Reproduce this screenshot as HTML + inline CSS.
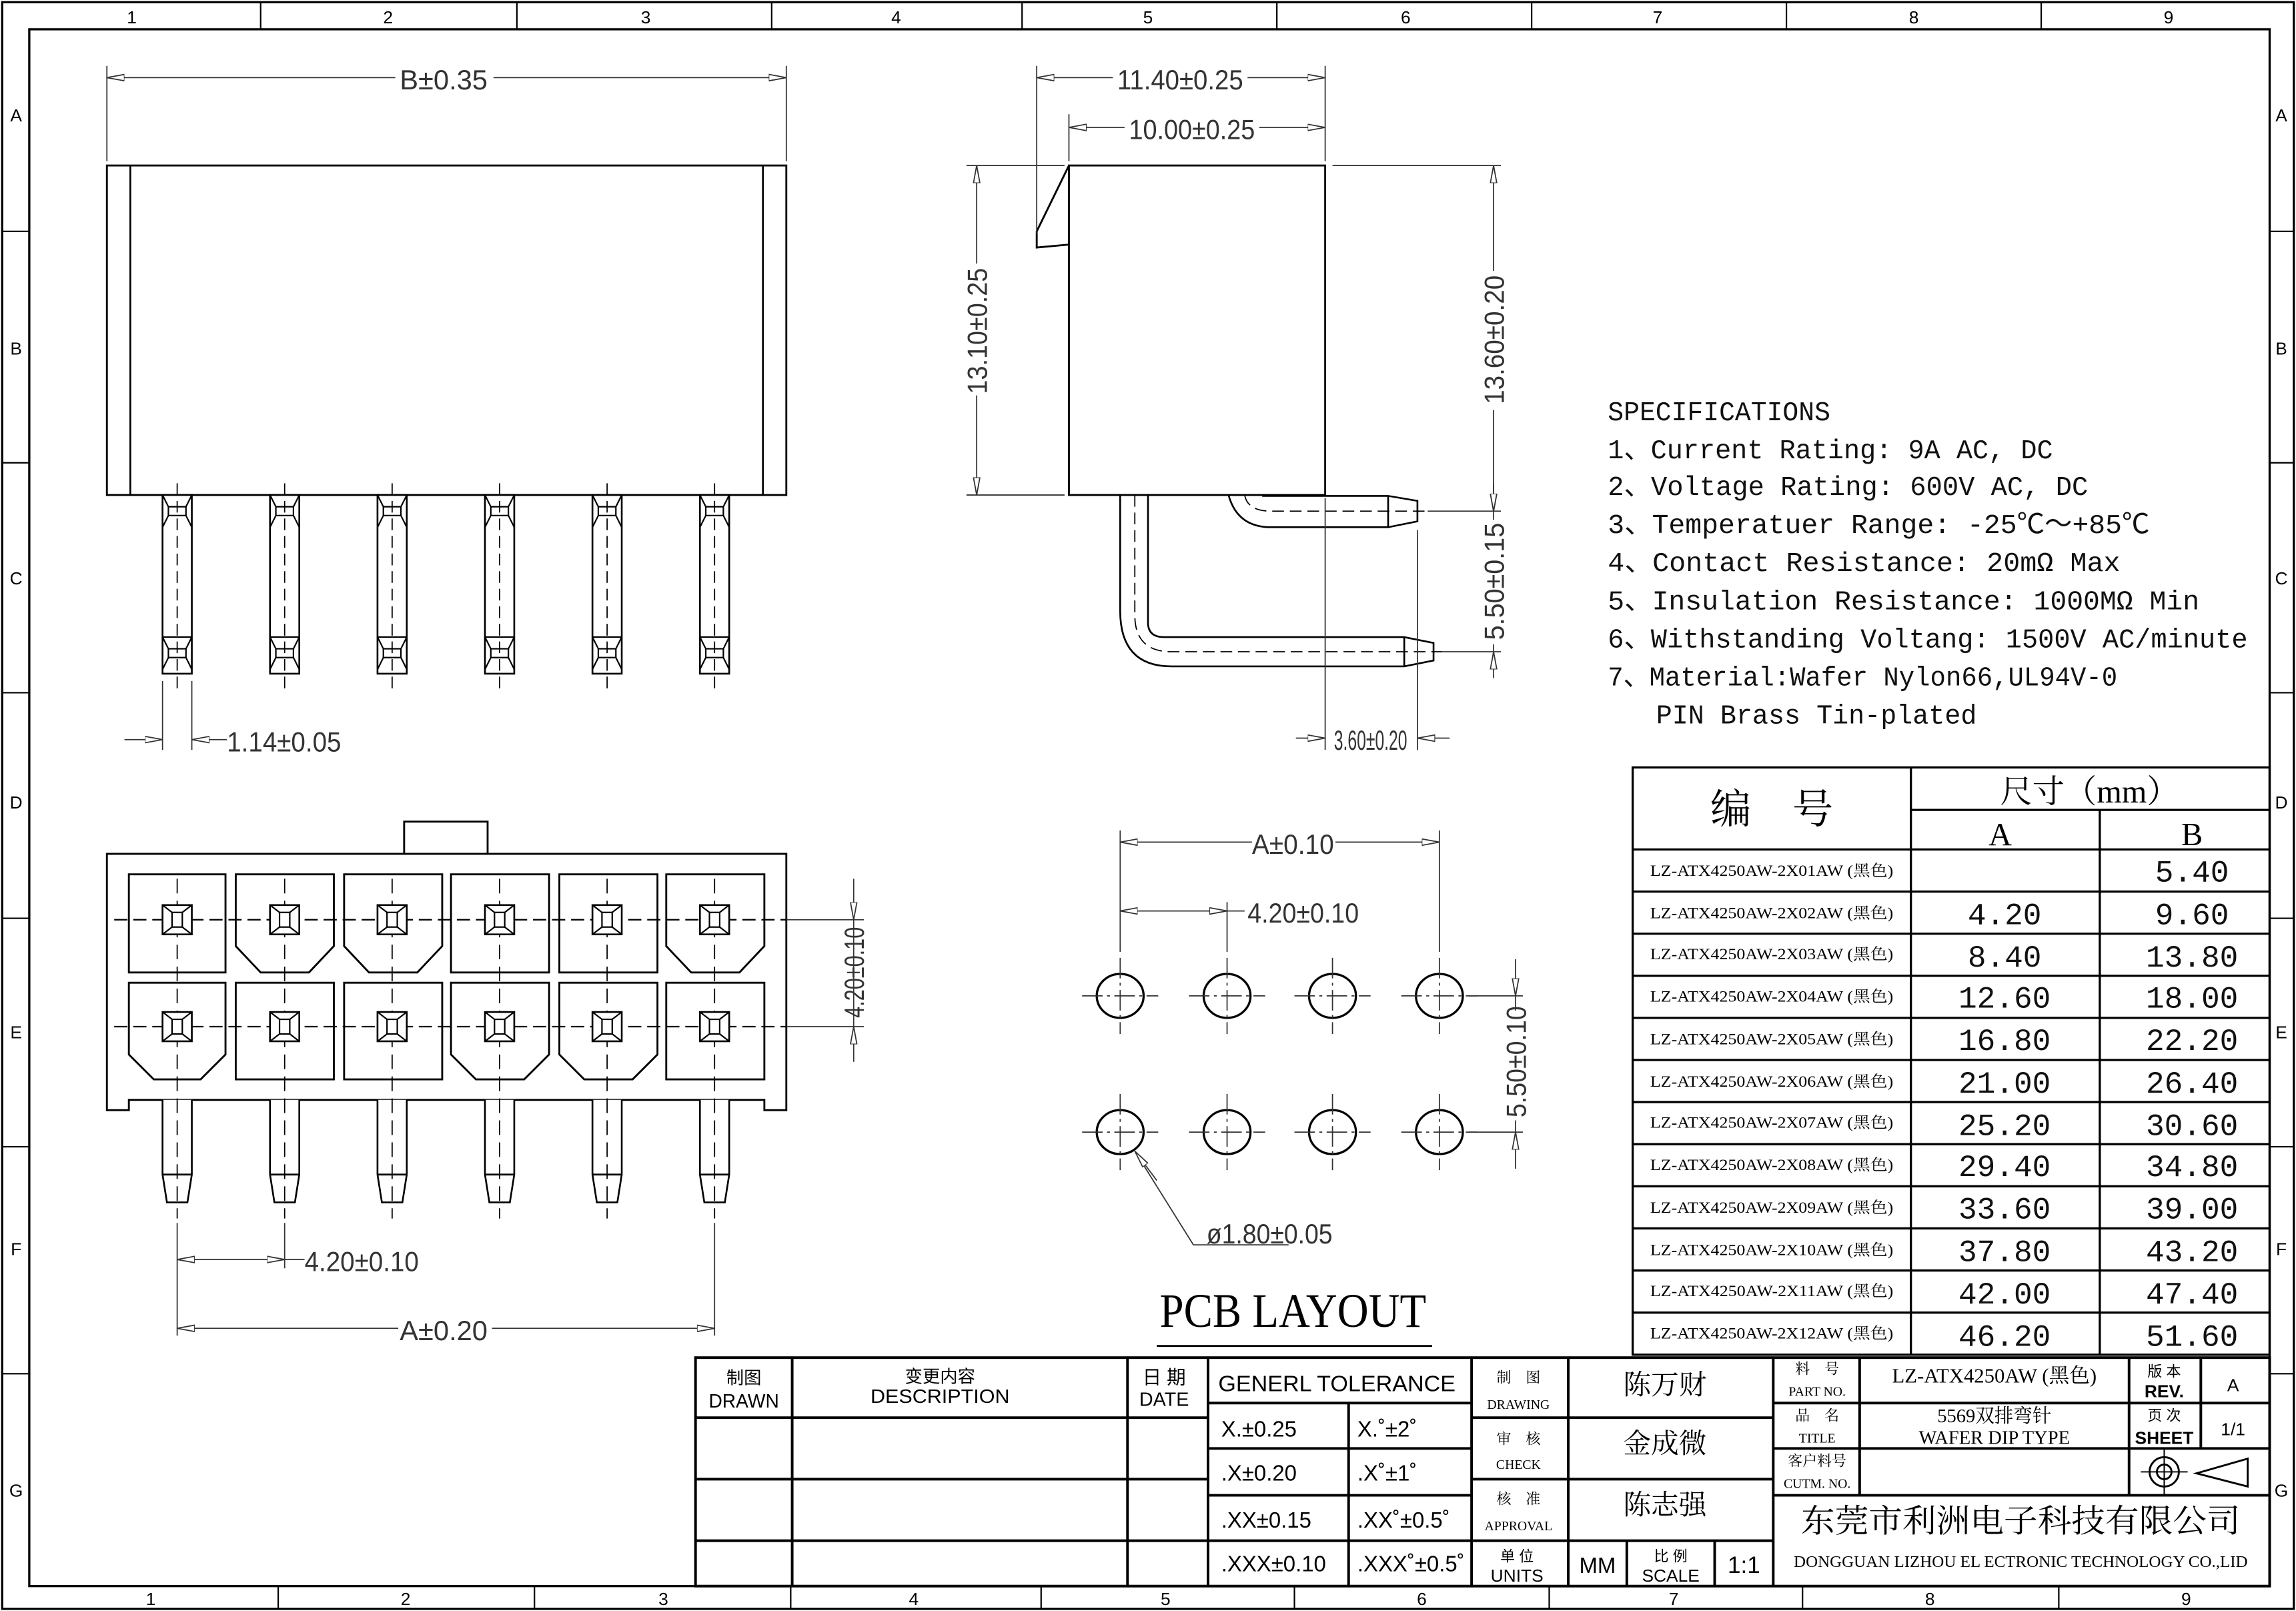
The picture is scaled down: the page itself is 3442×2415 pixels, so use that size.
<!DOCTYPE html>
<html><head><meta charset="utf-8"><style>
html,body{margin:0;padding:0;background:#fff}
svg{display:block}
.d{font-family:"Liberation Sans Narrow","Liberation Sans",sans-serif;fill:#333;font-size:19px}
.s{font-family:"Liberation Serif","Noto Serif CJK SC",serif;fill:#000}
.m{font-family:"Liberation Mono","Noto Sans CJK SC",monospace;fill:#111}
.k{font-family:"Liberation Sans","Noto Sans CJK SC",sans-serif;fill:#000}
</style></head><body>
<svg width="3442" height="2415" viewBox="0 0 1568 1100" preserveAspectRatio="none" xmlns="http://www.w3.org/2000/svg">
<defs>
<marker id="a" viewBox="0 0 12 6" refX="12" refY="3" markerWidth="12" markerHeight="6" orient="auto-start-reverse" markerUnits="userSpaceOnUse"><path d="M0,0.8 L12,3 L0,5.2 Z" fill="#fff" stroke="#333" stroke-width="0.8"/></marker>
<g id="tp"><rect x="-10" y="338" width="20" height="122" fill="#fff" stroke="#000" stroke-width="1.2"/>
<path d="M-10,360 L-6,352 H6 L10,360 M-10,338 L-6,346 H6 L10,338 M-6,346 V352 M6,346 V352 M-10,435 L-6,443 H6 L10,435 M-10,457 L-6,449 H6 L10,457 M-6,443 V449 M6,443 V449 M-10,435 H10" fill="none" stroke="#000" stroke-width="1"/>
<path d="M0,330 V470" stroke="#000" stroke-width="0.8" stroke-dasharray="8,4"/></g>
<g id="fp"><path d="M-10,751 V802 L-7,821 H7 L10,802 V751 M-10,802 H10" fill="#fff" stroke="#000" stroke-width="1.2"/>
<path d="M0,600 V832" stroke="#000" stroke-width="0.8" stroke-dasharray="10,5"/></g>
<g id="sq"><rect x="-10" y="-10" width="20" height="20" fill="#fff" stroke="#000" stroke-width="1.2"/><rect x="-3.5" y="-5" width="7" height="10" fill="none" stroke="#000" stroke-width="1"/><path d="M-10,-10 L-3.5,-5 M10,-10 L3.5,-5 M-10,10 L-3.5,5 M10,10 L3.5,5" stroke="#000" stroke-width="1"/></g>
<g id="hole"><ellipse cx="0" cy="0" rx="16" ry="15" fill="none" stroke="#000" stroke-width="1.5"/><path d="M-26,0 H26 M0,-26 V26" stroke="#333" stroke-width="0.8" stroke-dasharray="14,3,2,3"/></g>
</defs>
<rect x="0" y="0" width="1568" height="1100" fill="#fff"/>
<rect x="1.5" y="1.5" width="1565" height="1097" fill="none" stroke="#000" stroke-width="1.5"/>
<rect x="20" y="20" width="1530" height="1063" fill="none" stroke="#000" stroke-width="1.5"/>
<g stroke="#000" stroke-width="1">
<path d="M178,2V20M353,2V20M527,2V20M698,2V20M872,2V20M1046,2V20M1220,2V20M1394,2V20"/>
<path d="M190,1083V1098M365,1083V1098M540,1083V1098M711,1083V1098M884,1083V1098M1058,1083V1098M1231,1083V1098M1406,1083V1098"/>
<path d="M2,158H20M2,316H20M2,473H20M2,627H20M2,783H20M2,938H20M1550,158H1566M1550,316H1566M1550,473H1566M1550,627H1566M1550,783H1566M1550,938H1566"/>
</g>
<g class="k" font-size="12" text-anchor="middle">
<text x="90" y="16">1</text><text x="265" y="16">2</text><text x="441" y="16">3</text><text x="612" y="16">4</text><text x="784" y="16">5</text><text x="960" y="16">6</text><text x="1132" y="16">7</text><text x="1307" y="16">8</text><text x="1481" y="16">9</text>
<text x="103" y="1096">1</text><text x="277" y="1096">2</text><text x="453" y="1096">3</text><text x="624" y="1096">4</text><text x="796" y="1096">5</text><text x="971" y="1096">6</text><text x="1143" y="1096">7</text><text x="1318" y="1096">8</text><text x="1493" y="1096">9</text>
<text x="11" y="83">A</text><text x="11" y="242">B</text><text x="11" y="399">C</text><text x="11" y="552">D</text><text x="11" y="709">E</text><text x="11" y="857">F</text><text x="11" y="1022">G</text>
<text x="1558" y="83">A</text><text x="1558" y="242">B</text><text x="1558" y="399">C</text><text x="1558" y="552">D</text><text x="1558" y="709">E</text><text x="1558" y="857">F</text><text x="1558" y="1022">G</text>
</g>

<rect x="73" y="113" width="464" height="225" fill="#fff" stroke="#000" stroke-width="1.3"/>
<path d="M89,113V338M521,113V338" stroke="#000" stroke-width="1.2"/>
<use href="#tp" x="121"/><use href="#tp" x="194.4"/><use href="#tp" x="267.8"/><use href="#tp" x="341.2"/><use href="#tp" x="414.6"/><use href="#tp" x="488"/>
<g stroke="#333" stroke-width="0.8" fill="none">
<path d="M73,45V110M537,45V110"/>
<path d="M73,53H270M337,53H537" marker-start="url(#a)" marker-end="url(#a)"/>
<path d="M111,465V512M131,465V512"/>
<path d="M85,505H111" marker-end="url(#a)"/><path d="M155,505H131" marker-end="url(#a)"/>
</g>
<text class="d" x="303" y="61" text-anchor="middle" textLength="60" lengthAdjust="spacingAndGlyphs">B±0.35</text>
<text class="d" x="194" y="513" text-anchor="middle" textLength="78" lengthAdjust="spacingAndGlyphs">1.14±0.05</text>

<rect x="730" y="113" width="175" height="225" fill="#fff" stroke="#000" stroke-width="1.3"/>
<path d="M730,113 L708,158 V169 L730,167" fill="none" stroke="#000" stroke-width="1.3"/>
<g fill="none" stroke="#000" stroke-width="1.2">
<path d="M839,338 Q845,360 868,360 H948 L968,356 V342 L948,338.6 H862 M948,338.6V360"/>
<path d="M765,338 V417 Q765,455 800,455 H959 L979,451 V439 L959,435 H795 Q784,435 784,425 V338 M959,435V455"/>
</g>
<g fill="none" stroke="#000" stroke-width="0.8" stroke-dasharray="8,4">
<path d="M850,338 Q852,349 868,349 H975"/>
<path d="M775,338 V420 Q775,445 800,445 H985"/>
</g>
<g stroke="#333" stroke-width="0.8" fill="none">
<path d="M708,45V160M730,78V110M905,45V110M910,113H1025M660,113H727M660,338H727M975,349H1025M985,445H1025M905,340V512M968,362V512"/>
<path d="M708,53H760M852,53H905" marker-start="url(#a)" marker-end="url(#a)"/>
<path d="M730,87H768M860,87H905" marker-start="url(#a)" marker-end="url(#a)"/>
<path d="M667,113V180M667,270V338" marker-start="url(#a)" marker-end="url(#a)"/>
<path d="M1020,113V185M1020,280V349" marker-start="url(#a)" marker-end="url(#a)"/>
<path d="M1020,349V355M1020,440V445"/>
<path d="M1020,330V349" marker-end="url(#a)"/><path d="M1020,463V445" marker-end="url(#a)"/>
<path d="M885,504H905" marker-end="url(#a)"/><path d="M990,504H968" marker-end="url(#a)"/>
</g>
<text class="d" x="806" y="61" text-anchor="middle" textLength="86" lengthAdjust="spacingAndGlyphs">11.40±0.25</text>
<text class="d" x="814" y="95" text-anchor="middle" textLength="86" lengthAdjust="spacingAndGlyphs">10.00±0.25</text>
<text class="d" transform="translate(674,226) rotate(-90)" text-anchor="middle" textLength="86" lengthAdjust="spacingAndGlyphs">13.10±0.25</text>
<text class="d" transform="translate(1027,232) rotate(-90)" text-anchor="middle" textLength="88" lengthAdjust="spacingAndGlyphs">13.60±0.20</text>
<text class="d" transform="translate(1027,397) rotate(-90)" text-anchor="middle" textLength="80" lengthAdjust="spacingAndGlyphs">5.50±0.15</text>
<text class="d" x="936" y="512" text-anchor="middle" font-size="16" textLength="50" lengthAdjust="spacingAndGlyphs">3.60±0.20</text>

<g class="m" font-size="18.6">
<text x="1098" y="287" textLength="152" lengthAdjust="spacingAndGlyphs">SPECIFICATIONS</text>
<text x="1098" y="313" textLength="304" lengthAdjust="spacingAndGlyphs">1、Current Rating: 9A AC, DC</text>
<text x="1098" y="338" textLength="328" lengthAdjust="spacingAndGlyphs">2、Voltage Rating: 600V AC, DC</text>
<text x="1098" y="364" textLength="370" lengthAdjust="spacingAndGlyphs">3、Temperatuer Range: -25℃～+85℃</text>
<text x="1098" y="390" textLength="350" lengthAdjust="spacingAndGlyphs">4、Contact Resistance: 20mΩ Max</text>
<text x="1098" y="416" textLength="404" lengthAdjust="spacingAndGlyphs">5、Insulation Resistance: 1000MΩ Min</text>
<text x="1098" y="442" textLength="437" lengthAdjust="spacingAndGlyphs">6、Withstanding Voltang: 1500V AC/minute</text>
<text x="1098" y="468" textLength="348" lengthAdjust="spacingAndGlyphs">7、Material:Wafer Nylon66,UL94V-0</text>
<text x="1131" y="494" textLength="219" lengthAdjust="spacingAndGlyphs">PIN Brass Tin-plated</text>
</g>

<g stroke="#000" stroke-width="1.5" fill="none">
<rect x="1115" y="524" width="435" height="401"/>
<path d="M1305,524V925M1434,553V925M1305,553H1550M1115,580H1550"/>
<path d="M1115,608.75H1550M1115,637.5H1550M1115,666.25H1550M1115,695H1550M1115,723.75H1550M1115,752.5H1550M1115,781.25H1550M1115,810H1550M1115,838.75H1550M1115,867.5H1550M1115,896.25H1550"/>
</g>
<g class="s" text-anchor="middle">
<text x="1210" y="562" font-size="28">编　号</text>
<text x="1427" y="548" font-size="22">尺寸（mm）</text>
<text x="1366" y="577" font-size="22">A</text><text x="1497" y="577" font-size="22">B</text>
</g>
<g class="s" font-size="10.5" text-anchor="middle">
<text x="1210" y="598" textLength="166" lengthAdjust="spacingAndGlyphs">LZ-ATX4250AW-2X01AW (黑色)</text>
<text x="1210" y="627" textLength="166" lengthAdjust="spacingAndGlyphs">LZ-ATX4250AW-2X02AW (黑色)</text>
<text x="1210" y="655" textLength="166" lengthAdjust="spacingAndGlyphs">LZ-ATX4250AW-2X03AW (黑色)</text>
<text x="1210" y="684" textLength="166" lengthAdjust="spacingAndGlyphs">LZ-ATX4250AW-2X04AW (黑色)</text>
<text x="1210" y="713" textLength="166" lengthAdjust="spacingAndGlyphs">LZ-ATX4250AW-2X05AW (黑色)</text>
<text x="1210" y="742" textLength="166" lengthAdjust="spacingAndGlyphs">LZ-ATX4250AW-2X06AW (黑色)</text>
<text x="1210" y="770" textLength="166" lengthAdjust="spacingAndGlyphs">LZ-ATX4250AW-2X07AW (黑色)</text>
<text x="1210" y="799" textLength="166" lengthAdjust="spacingAndGlyphs">LZ-ATX4250AW-2X08AW (黑色)</text>
<text x="1210" y="828" textLength="166" lengthAdjust="spacingAndGlyphs">LZ-ATX4250AW-2X09AW (黑色)</text>
<text x="1210" y="857" textLength="166" lengthAdjust="spacingAndGlyphs">LZ-ATX4250AW-2X10AW (黑色)</text>
<text x="1210" y="885" textLength="166" lengthAdjust="spacingAndGlyphs">LZ-ATX4250AW-2X11AW (黑色)</text>
<text x="1210" y="914" textLength="166" lengthAdjust="spacingAndGlyphs">LZ-ATX4250AW-2X12AW (黑色)</text>
</g>
<g class="m" font-size="21" text-anchor="middle">
<text x="1497" y="602">5.40</text>
<text x="1369" y="631">4.20</text><text x="1497" y="631">9.60</text>
<text x="1369" y="660">8.40</text><text x="1497" y="660">13.80</text>
<text x="1369" y="688">12.60</text><text x="1497" y="688">18.00</text>
<text x="1369" y="717">16.80</text><text x="1497" y="717">22.20</text>
<text x="1369" y="746">21.00</text><text x="1497" y="746">26.40</text>
<text x="1369" y="775">25.20</text><text x="1497" y="775">30.60</text>
<text x="1369" y="803">29.40</text><text x="1497" y="803">34.80</text>
<text x="1369" y="832">33.60</text><text x="1497" y="832">39.00</text>
<text x="1369" y="861">37.80</text><text x="1497" y="861">43.20</text>
<text x="1369" y="890">42.00</text><text x="1497" y="890">47.40</text>
<text x="1369" y="919">46.20</text><text x="1497" y="919">51.60</text>
</g>

<rect x="276" y="561" width="57" height="22" fill="#fff" stroke="#000" stroke-width="1.3"/>
<path d="M73,583 H537 V758 H522 V751 H88 V758 H73 Z" fill="#fff" stroke="#000" stroke-width="1.3"/>
<g fill="none" stroke="#000" stroke-width="1.3">
<path d="M88,597H154V664H88Z"/>
<path d="M161,597H228V646L211,664H178L161,646Z"/>
<path d="M235,597H302V646L285,664H252L235,646Z"/>
<path d="M308,597H375V664H308Z"/>
<path d="M382,597H449V664H382Z"/>
<path d="M455,597H522V646L505,664H472L455,646Z"/>
<path d="M88,671H154V720L137,737H105L88,720Z"/>
<path d="M161,671H228V737H161Z"/>
<path d="M235,671H302V737H235Z"/>
<path d="M308,671H375V720L358,737H325L308,720Z"/>
<path d="M382,671H449V720L432,737H399L382,720Z"/>
<path d="M455,671H522V737H455Z"/>
</g>
<use href="#fp" x="121"/><use href="#fp" x="194.4"/><use href="#fp" x="267.8"/><use href="#fp" x="341.2"/><use href="#fp" x="414.6"/><use href="#fp" x="488"/>
<path d="M78,628H537M78,701H537" stroke="#000" stroke-width="1" stroke-dasharray="9,4"/>
<g>
<use href="#sq" x="121" y="628"/><use href="#sq" x="194.4" y="628"/><use href="#sq" x="267.8" y="628"/><use href="#sq" x="341.2" y="628"/><use href="#sq" x="414.6" y="628"/><use href="#sq" x="488" y="628"/>
<use href="#sq" x="121" y="701"/><use href="#sq" x="194.4" y="701"/><use href="#sq" x="267.8" y="701"/><use href="#sq" x="341.2" y="701"/><use href="#sq" x="414.6" y="701"/><use href="#sq" x="488" y="701"/>
</g>
<g stroke="#333" stroke-width="0.8" fill="none">
<path d="M537,628H590M537,701H590"/>
<path d="M583,600V628" marker-end="url(#a)"/><path d="M583,725V701" marker-end="url(#a)"/>
<path d="M583,628V701"/>
<path d="M121,835V912M194.4,835V866M488,835V912"/>
<path d="M121,860H194.4" marker-start="url(#a)" marker-end="url(#a)"/>
<path d="M194.4,860H208"/>
<path d="M121,907H272M336,907H488" marker-start="url(#a)" marker-end="url(#a)"/>
</g>
<text class="d" transform="translate(590,664) rotate(-90)" text-anchor="middle" textLength="62" lengthAdjust="spacingAndGlyphs">4.20±0.10</text>
<text class="d" x="247" y="868" text-anchor="middle" textLength="78" lengthAdjust="spacingAndGlyphs">4.20±0.10</text>
<text class="d" x="303" y="915" text-anchor="middle" textLength="60" lengthAdjust="spacingAndGlyphs">A±0.20</text>

<use href="#hole" x="765" y="680"/><use href="#hole" x="838" y="680"/><use href="#hole" x="910" y="680"/><use href="#hole" x="983" y="680"/>
<use href="#hole" x="765" y="773"/><use href="#hole" x="838" y="773"/><use href="#hole" x="910" y="773"/><use href="#hole" x="983" y="773"/>
<g stroke="#333" stroke-width="0.8" fill="none">
<path d="M765,567V650M838,616V650M983,567V650"/>
<path d="M765,575H855M912,575H983" marker-start="url(#a)" marker-end="url(#a)"/>
<path d="M765,622H838" marker-start="url(#a)" marker-end="url(#a)"/>
<path d="M838,622H850"/>
<path d="M1003,680H1040M1003,773H1040"/>
<path d="M1035,655V680" marker-end="url(#a)"/><path d="M1035,798V773" marker-end="url(#a)"/>
<path d="M1035,680V690M1035,765V773"/>
<path d="M815,850H880M815,850L775,786"/>
<path d="M790,806L775,786" marker-end="url(#a)"/>
</g>
<text class="d" x="883" y="583" text-anchor="middle" textLength="56" lengthAdjust="spacingAndGlyphs">A±0.10</text>
<text class="d" x="890" y="630" text-anchor="middle" textLength="76" lengthAdjust="spacingAndGlyphs">4.20±0.10</text>
<text class="d" transform="translate(1042,725) rotate(-90)" text-anchor="middle" textLength="76" lengthAdjust="spacingAndGlyphs">5.50±0.10</text>
<text class="d" x="867" y="849" text-anchor="middle" textLength="86" lengthAdjust="spacingAndGlyphs">ø1.80±0.05</text>
<text class="s" x="883" y="906" text-anchor="middle" font-size="33" textLength="182" lengthAdjust="spacingAndGlyphs">PCB LAYOUT</text>
<path d="M790,919H978" stroke="#000" stroke-width="1.3"/>

<g stroke="#000" stroke-width="1.8" fill="none">
<rect x="475" y="927" width="1075" height="156"/>
<path d="M541,927V1083M770,927V1083M825,927V1083M921,958V1083M1005,927V1083M1071,927V1083M1111,1052V1083M1171,1052V1083M1211,927V1083M1270,927V1021M1454,927V1021M1503,927V989"/>
<path d="M475,968H825M475,1010H825M475,1052H825M825,958H1005M825,989H1005M825,1021H1005M825,1052H1211M1005,968H1211M1005,1010H1211M1211,958H1550M1211,989H1550M1211,1021H1550"/>
</g>
<g class="k" text-anchor="middle">
<text x="508" y="945" font-size="12">制图</text><text x="508" y="961" font-size="13" textLength="48" lengthAdjust="spacingAndGlyphs">DRAWN</text>
<text x="642" y="944" font-size="12">变更内容</text><text x="642" y="958" font-size="13" textLength="95" lengthAdjust="spacingAndGlyphs">DESCRIPTION</text>
<text x="795" y="945" font-size="13">日 期</text><text x="795" y="960" font-size="13" textLength="34" lengthAdjust="spacingAndGlyphs">DATE</text>
<text x="913" y="950" font-size="15" textLength="162" lengthAdjust="spacingAndGlyphs">GENERL TOLERANCE</text>
<g font-size="15" text-anchor="start">
<text x="834" y="981">X.±0.25</text><text x="927" y="981">X.˚±2˚</text>
<text x="834" y="1011">.X±0.20</text><text x="927" y="1011">.X˚±1˚</text>
<text x="834" y="1043">.XX±0.15</text><text x="927" y="1043">.XX˚±0.5˚</text>
<text x="834" y="1073">.XXX±0.10</text><text x="927" y="1073">.XXX˚±0.5˚</text>
</g>
<text x="1091" y="1074" font-size="15">MM</text>
<text x="1141" y="1080" font-size="12">SCALE</text><text x="1141" y="1066" font-size="10">比 例</text>
<text x="1191" y="1074" font-size="16">1:1</text>
<text x="1036" y="1080" font-size="12">UNITS</text><text x="1036" y="1066" font-size="10">单 位</text>
<text x="1478" y="954" font-size="12" font-weight="bold">REV.</text><text x="1478" y="940" font-size="10">版 本</text>
<text x="1525" y="950" font-size="12">A</text>
<text x="1478" y="986" font-size="12" font-weight="bold">SHEET</text><text x="1478" y="970" font-size="10">页 次</text>
<text x="1525" y="980" font-size="12">1/1</text>
</g>
<g class="s" text-anchor="middle">
<text x="1037" y="944" font-size="10">制　图</text><text x="1037" y="962" font-size="9">DRAWING</text>
<text x="1037" y="986" font-size="10">审　核</text><text x="1037" y="1003" font-size="9">CHECK</text>
<text x="1037" y="1027" font-size="10">核　准</text><text x="1037" y="1045" font-size="9">APPROVAL</text>
<text x="1137" y="952" font-size="19">陈万财</text>
<text x="1137" y="992" font-size="19">金成微</text>
<text x="1137" y="1034" font-size="19">陈志强</text>
<text x="1241" y="938" font-size="10">料　号</text><text x="1241" y="953" font-size="9">PART NO.</text>
<text x="1241" y="970" font-size="10">品　名</text><text x="1241" y="985" font-size="9">TITLE</text>
<text x="1241" y="1001" font-size="10">客户料号</text><text x="1241" y="1016" font-size="9">CUTM. NO.</text>
<text x="1362" y="944" font-size="14">LZ-ATX4250AW (黑色)</text>
<text x="1362" y="971" font-size="13">5569双排弯针</text>
<text x="1362" y="986" font-size="13">WAFER DIP TYPE</text>
<text x="1380" y="1046" font-size="22" textLength="300" lengthAdjust="spacingAndGlyphs">东莞市利洲电子科技有限公司</text>
<text x="1380" y="1070" font-size="11" textLength="310" lengthAdjust="spacingAndGlyphs">DONGGUAN LIZHOU EL ECTRONIC TECHNOLOGY CO.,LID</text>
</g>
<g fill="none" stroke="#000" stroke-width="1.3">
<circle cx="1478" cy="1005" r="10"/><circle cx="1478" cy="1005" r="5"/>
<path d="M1462,1005H1494M1478,989V1021" stroke-width="0.9"/>
<path d="M1500,1006L1535,996V1015Z"/>
</g>
</svg>
</body></html>
